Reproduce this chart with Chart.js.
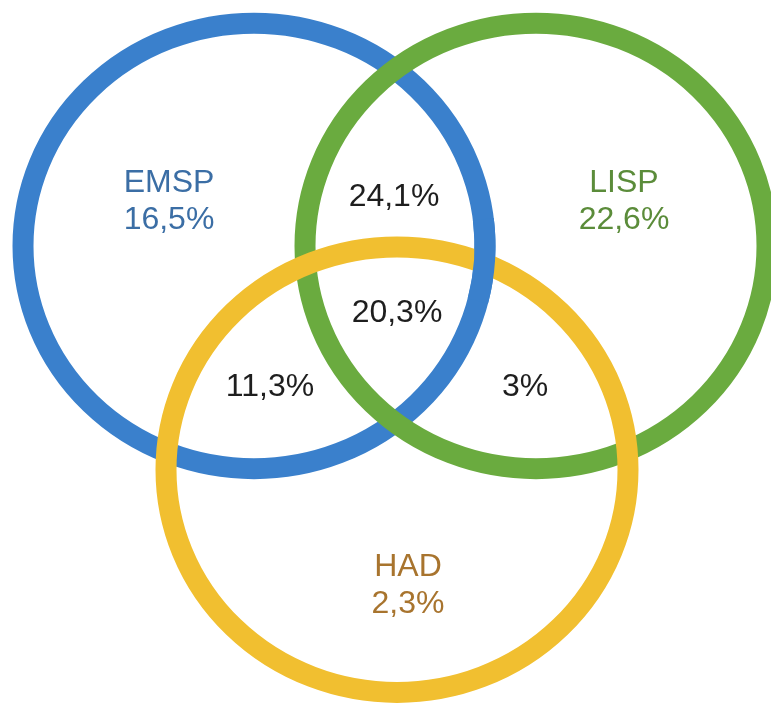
<!DOCTYPE html>
<html>
<head>
<meta charset="utf-8">
<script src="https://cdn.jsdelivr.net/npm/chart.js@4/dist/chart.umd.min.js"></script>
<style>
  html, body { margin: 0; padding: 0; background: #fff; }
  canvas { display: block; }
</style>
</head>
<body>
<canvas id="vennChart" width="771" height="704"></canvas>
<script>
/// === DATA === ///
const setNames = ["EMSP", "LISP", "HAD"];
const setOnly = [16.5, 22.6, 2.3];
const circleX = [254, 536, 397];
const circleY = [255, 255, 487];
const circleR = [231, 231, 231];

const overlapNames = ["EMSP+LISP", "EMSP+LISP+HAD", "EMSP+HAD", "LISP+HAD"];
const overlapValues = [24.1, 20.3, 11.3, 3];

// label anchors, in the same units as the circles
const setLabelX = [169, 624, 408];
const setLabelY = [209, 209, 607];
const overlapLabelX = [394, 397, 270, 525];
const overlapLabelY = [204, 325, 401, 401];

const ringColors = ["#3a80cc", "#6aab3f", "#f1bf30"];
const textColors = ["#3b6ea5", "#5b8c3a", "#a8742e"];

const fmt = (v) => String(v).replace(".", ",") + "%";
const FONT = '32px "Liberation Sans", Arial, sans-serif';
const RING_WIDTH = 21;

/// === VENN PLUGIN === ///
const vennPlugin = {
  id: "venn",
  afterDatasetsDraw(chart) {
    const { ctx, scales: { x, y } } = chart;
    ctx.save();

    const ring = (i, from, to) => {
      const cx = x.getPixelForValue(circleX[i]);
      const cy = y.getPixelForValue(circleY[i]);
      const rx = Math.abs(x.getPixelForValue(circleX[i] + circleR[i]) - cx);
      const ry = Math.abs(y.getPixelForValue(circleY[i] + circleR[i]) - cy);
      ctx.beginPath();
      ctx.ellipse(cx, cy, rx, ry, 0, from, to);
      ctx.lineWidth = RING_WIDTH;
      ctx.lineCap = "butt";
      ctx.strokeStyle = ringColors[i];
      ctx.stroke();
    };

    // rings: blue, green, yellow; then the blue piece that passes over yellow on the right
    setNames.forEach((name, i) => ring(i, 0, Math.PI * 2));
    ring(0, -0.12, 0.25);

    ctx.font = FONT;
    ctx.textAlign = "center";
    ctx.textBaseline = "middle";

    // set names + their own share
    setNames.forEach((name, i) => {
      const px = x.getPixelForValue(setLabelX[i]);
      const py = y.getPixelForValue(setLabelY[i]);
      ctx.fillStyle = textColors[i];
      ctx.fillText(name, px, py - 18.5);
      ctx.fillText(fmt(setOnly[i]), px, py + 18.5);
    });

    // overlaps
    ctx.fillStyle = "#1e1e1e";
    overlapValues.forEach((v, i) => {
      ctx.fillText(fmt(v), x.getPixelForValue(overlapLabelX[i]), y.getPixelForValue(overlapLabelY[i]));
    });

    ctx.restore();
  },
};

new Chart(document.getElementById("vennChart"), {
  type: "scatter",
  data: {
    datasets: [
      {
        label: "centres",
        data: circleX.map((cx, i) => ({ x: cx, y: circleY[i] })),
        pointRadius: 0,
      },
    ],
  },
  options: {
    responsive: false,
    animation: false,
    layout: { padding: 0 },
    plugins: { legend: { display: false }, tooltip: { enabled: false } },
    scales: {
      x: { min: 0, max: 771, display: false },
      y: { min: 0, max: 730, reverse: true, display: false },
    },
  },
  plugins: [vennPlugin],
});
</script>
</body>
</html>
